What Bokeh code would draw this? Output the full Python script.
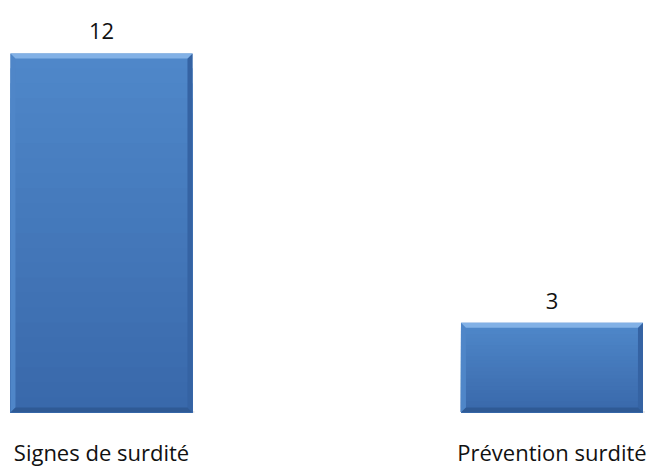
from bokeh.plotting import figure
from bokeh.models import Range1d, FixedTicker
from bokeh.core.properties import value
from bokeh.embed import file_html
from bokeh.resources import INLINE

categories = ["Signes de surdité", "Prévention surdité"]
counts = [12, 3]

FONT = "Open Sans"
xs = list(range(len(categories)))

X0, X1 = -0.2064, 1.2165
Y0, Y1 = 0, 13.5
FW, FH = 641, 404

p = figure(output_backend="svg", toolbar_location=None,
           frame_width=FW, frame_height=FH,
           x_range=Range1d(X0, X1), y_range=Range1d(Y0, Y1),
           min_border_left=8, min_border_right=0, min_border_top=8, min_border_bottom=0)
p.outline_line_color = None
p.grid.visible = False
p.yaxis.visible = False
p.background_fill_color = "white"
p.border_fill_color = "white"

bw = 0.404
px_x = (X1 - X0) / FW
px_y = (Y1 - Y0) / FH

lefts = [x - bw / 2 for x in xs]
rights = [x + bw / 2 for x in xs]
tops = counts
bots = [0 for _ in xs]

# soft shadow under bars
p.quad(left=[l + 1 * px_x for l in lefts], right=[r + 2 * px_x for r in rights],
       bottom=[-3 * px_y] * len(xs), top=[1 * px_y] * len(xs),
       fill_color="#c4c4c4", fill_alpha=0.7, line_color=None)

# body with vertical gradient (light top -> darker bottom); each strip runs
# down to the bar base so that no seams appear between strips
c_top = (0x4f, 0x88, 0xca)
c_bot = (0x39, 0x68, 0xaa)
N = 24
for k in range(N):
    f0 = k / N
    fm = (k + 0.5) / N
    col = "#%02x%02x%02x" % tuple(int(round(a + (b - a) * fm)) for a, b in zip(c_top, c_bot))
    p.quad(left=lefts, right=rights,
           top=[t - (t - b) * f0 for t, b in zip(tops, bots)],
           bottom=bots,
           fill_color=col, line_color=None)

bev = 5
dx, dy = bev * px_x, bev * px_y
top_x, top_y, left_x, left_y, right_x, right_y, bot_x, bot_y = [], [], [], [], [], [], [], []
for l, r, b, t in zip(lefts, rights, bots, tops):
    top_x.append([l, r, r - dx, l + dx]); top_y.append([t, t, t - dy, t - dy])
    bot_x.append([l, r, r - dx, l + dx]); bot_y.append([b, b, b + dy, b + dy])
    left_x.append([l, l + dx, l + dx, l]); left_y.append([t, t - dy, b + dy, b])
    right_x.append([r, r - dx, r - dx, r]); right_y.append([t, t - dy, b + dy, b])

p.patches(left_x, left_y, fill_color="#4f86c8", line_color=None)
p.patches(right_x, right_y, fill_color="#3563a3", line_color=None)
p.patches(bot_x, bot_y, fill_color="#2f5a95", line_color=None)
p.patches(top_x, top_y, fill_color="#82b1e6", line_color=None)

p.text(x=xs, y=counts, text=[str(c) for c in counts], text_align="center",
       text_baseline="middle", y_offset=-22, text_font=value(FONT),
       text_font_size="22px", text_color="#111111")

ax = p.xaxis[0]
ax.ticker = FixedTicker(ticks=xs)
ax.major_label_overrides = {i: c for i, c in zip(xs, categories)}
ax.axis_line_color = None
ax.major_tick_line_color = None
ax.minor_tick_line_color = None
ax.major_tick_out = 0
ax.major_tick_in = 0
ax.major_label_standoff = 24
ax.major_label_text_font = FONT
ax.major_label_text_font_size = "22px"
ax.major_label_text_color = "#111111"

open("out.html", "w").write(file_html(p, INLINE))
